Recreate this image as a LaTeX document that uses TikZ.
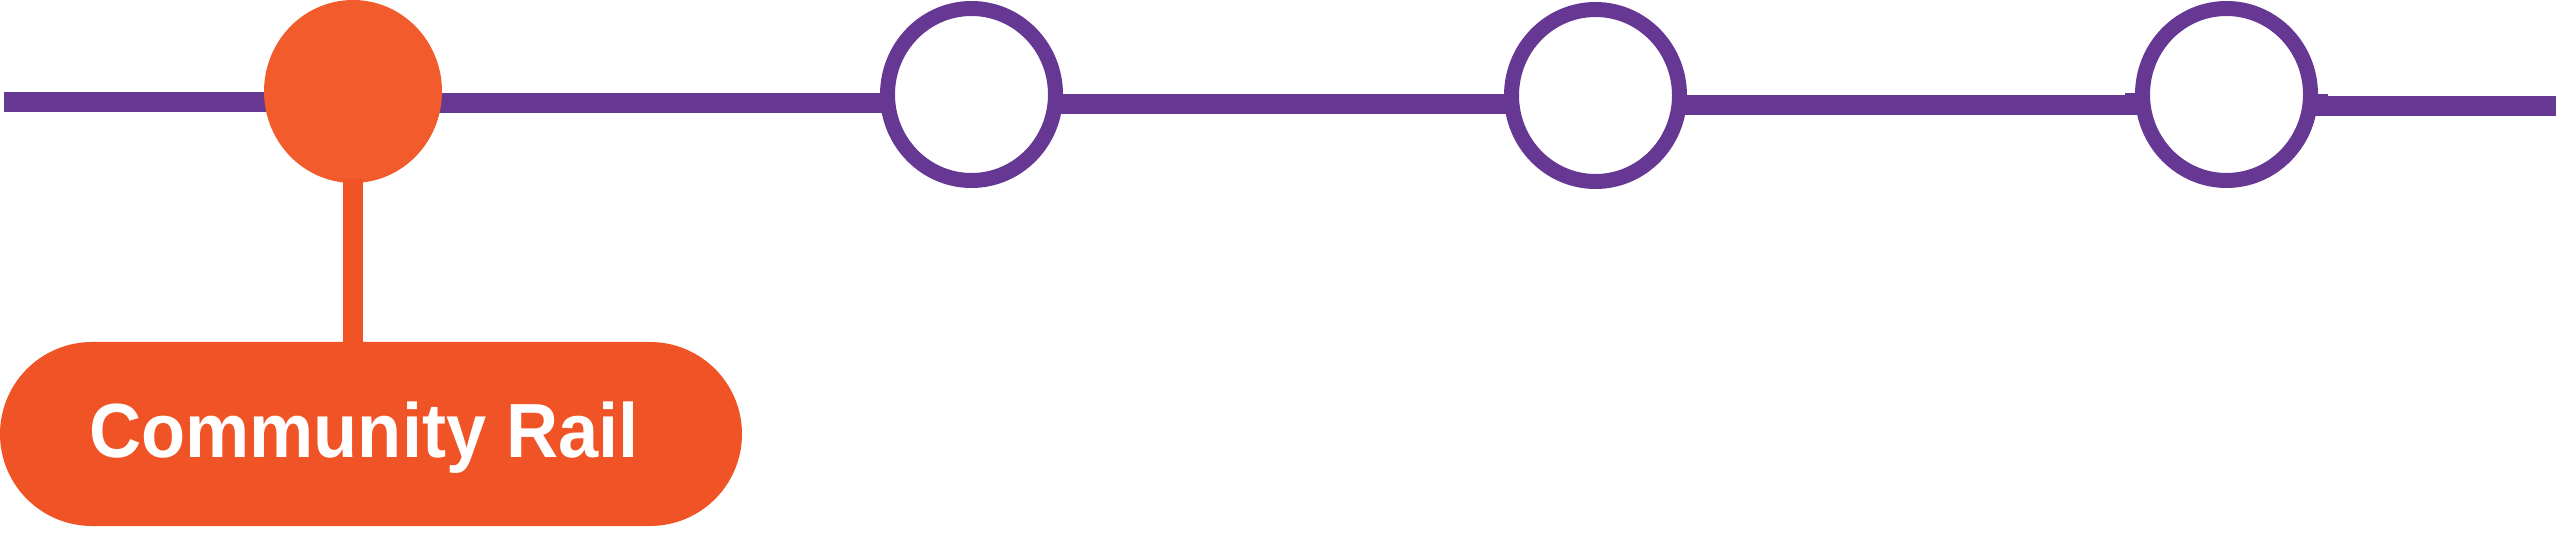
\documentclass[tikz,border=0pt]{standalone}
\usepackage{fontspec}
\newfontfamily\labelfont{Liberation Sans}[FakeStretch=0.94]
\usetikzlibrary{shapes.geometric,shapes.misc}
\pgfdeclarelayer{bg}
\pgfsetlayers{bg,main}
\definecolor{railpurple}{HTML}{663893}
\definecolor{hubor}{HTML}{F25C2C}
\definecolor{pillor}{HTML}{F05426}
\tikzset{
  rail/.style={draw=railpurple, line width=20pt},
  stopring/.style={ellipse, draw=railpurple, line width=15pt, fill=white,
    minimum width=168pt, minimum height=172pt, inner sep=0pt},
  hubdot/.style={ellipse, fill=hubor, minimum width=178pt, minimum height=183pt, inner sep=0pt},
  stemline/.style={draw=pillor, line width=20pt},
  pillbox/.style={rounded rectangle, fill=pillor, minimum width=742pt,
    minimum height=184pt, inner sep=0pt},
  pilltext/.style={text=white, inner sep=0pt,
    font=\labelfont\bfseries\fontsize{76.8}{80}\selectfont}
}
\begin{document}
\begin{tikzpicture}[x=1pt,y=-1pt]
\useasboundingbox (0,0) rectangle (2560,534);
\coordinate (y0) at (0,102);
\coordinate (y1) at (0,103);
\coordinate (y2) at (0,104);
\coordinate (y3) at (0,105);
\coordinate (y4) at (0,106.5);
\coordinate (L) at (4,102);
\coordinate (R) at (2556,106.5);
\node[hubdot] (hub) at (353,91.5) {};
\node[stopring] (s2) at (971.5,94.5) {};
\node[stopring] (s3) at (1595.5,95.5) {};
\node[stopring] (s4) at (2226.5,94.5) {};
\begin{pgfonlayer}{bg}
\draw[rail] (L) -- (hub.center |- y0);
\draw[rail] (hub.center |- y1) -- (s2.center |- y1);
\draw[rail] (s2.center |- y2) -- (s3.center |- y2);
\draw[rail] (s3.center |- y3) -- (s4.center |- y3);
\draw[rail] (s4.center |- y4) -- (R);
\fill[railpurple] (2125,93) rectangle (2137,100);
\fill[railpurple] (2316,94) rectangle (2328,100);
\end{pgfonlayer}
\node[pillbox] (pill) at (371,434) {};
\draw[stemline, shorten <=-4pt] (hub.south) -- (hub.south |- pill.north);
\node[pilltext, anchor=base] (lbl) at (364,457) {Community Rail};
\end{tikzpicture}
\end{document}
